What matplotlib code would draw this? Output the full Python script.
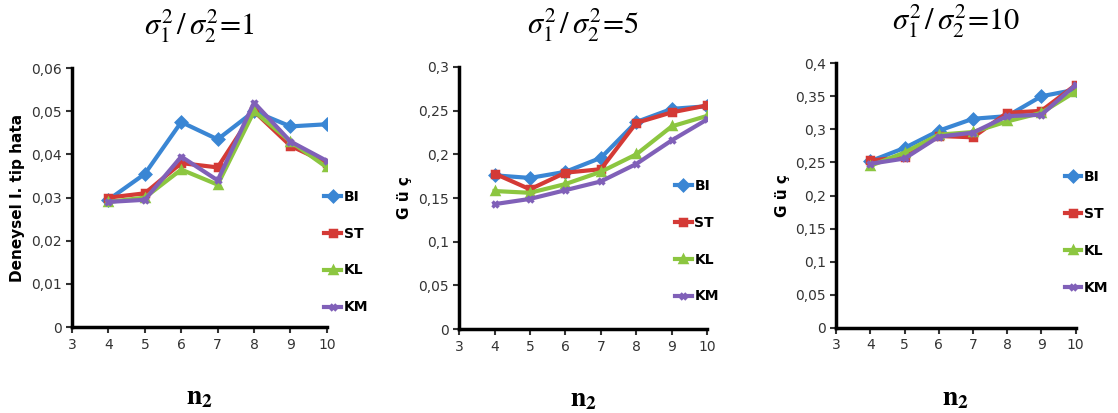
import matplotlib
matplotlib.use("Agg")
import matplotlib.pyplot as plt
from matplotlib.ticker import FuncFormatter, MultipleLocator

n2 = [4, 5, 6, 7, 8, 9, 10]
series_names = ["BI", "ST", "KL", "KM"]

# Panel 1: sigma1^2/sigma2^2 = 1 (empirical type I error)
p1_BI = [0.0295, 0.0355, 0.0475, 0.0435, 0.0500, 0.0465, 0.0470]
p1_ST = [0.0300, 0.0310, 0.0380, 0.0370, 0.0500, 0.0420, 0.0380]
p1_KL = [0.0290, 0.0300, 0.0365, 0.0330, 0.0500, 0.0430, 0.0370]
p1_KM = [0.0290, 0.0295, 0.0395, 0.0340, 0.0520, 0.0430, 0.0385]

# Panel 2: sigma1^2/sigma2^2 = 5 (power)
p2_BI = [0.176, 0.173, 0.180, 0.196, 0.237, 0.252, 0.255]
p2_ST = [0.178, 0.160, 0.179, 0.183, 0.236, 0.248, 0.256]
p2_KL = [0.158, 0.156, 0.166, 0.180, 0.200, 0.232, 0.244]
p2_KM = [0.143, 0.149, 0.159, 0.169, 0.189, 0.216, 0.240]

# Panel 3: sigma1^2/sigma2^2 = 10 (power)
p3_BI = [0.252, 0.272, 0.298, 0.316, 0.320, 0.350, 0.360]
p3_ST = [0.253, 0.258, 0.290, 0.288, 0.325, 0.328, 0.367]
p3_KL = [0.245, 0.265, 0.292, 0.296, 0.312, 0.325, 0.357]
p3_KM = [0.248, 0.256, 0.289, 0.295, 0.320, 0.322, 0.367]

titles = [r"$\sigma_1^2\,/\,\sigma_2^2\!=\!1$", r"$\sigma_1^2\,/\,\sigma_2^2\!=\!5$",
          r"$\sigma_1^2\,/\,\sigma_2^2\!=\!10$"]
ylabels = ["Deneysel I. tip hata", "G ü ç", "G ü ç"]
ylims = [0.06, 0.3, 0.4]
ysteps = [0.01, 0.05, 0.05]

colors = {"BI": "#3a86d4", "ST": "#d43a36", "KL": "#8cc640", "KM": "#8060b8"}
markers = {"BI": "D", "ST": "s", "KL": "^", "KM": "x"}

plt.rcParams["mathtext.fontset"] = "stix"

fig = plt.figure(figsize=(11.18, 4.13), dpi=100)
positions = [
    [0.0644, 0.208, 0.228, 0.627],
    [0.4106, 0.203, 0.222, 0.635],
    [0.748, 0.206, 0.214, 0.641],
]
legend_anchor = [(0.99, 0.29), (0.87, 0.336), (0.955, 0.36)]
data = [
    [p1_BI, p1_ST, p1_KL, p1_KM],
    [p2_BI, p2_ST, p2_KL, p2_KM],
    [p3_BI, p3_ST, p3_KL, p3_KM],
]

def comma_fmt(v, pos):
    s = ("%.2f" % v).rstrip("0").rstrip(".")
    if s == "":
        s = "0"
    return s.replace(".", ",")

for i in range(3):
    ax = fig.add_axes(positions[i])
    for name, vals in zip(series_names, data[i]):
        ax.plot(n2, vals, color=colors[name], marker=markers[name], lw=3,
                ms=5, mew=2.5, label=name)
    ax.set_xlim(3, 10)
    ax.set_ylim(0, ylims[i])
    ax.xaxis.set_major_locator(MultipleLocator(1))
    ax.yaxis.set_major_locator(MultipleLocator(ysteps[i]))
    ax.yaxis.set_major_formatter(FuncFormatter(comma_fmt))
    for s in ["top", "right"]:
        ax.spines[s].set_visible(False)
    for s in ["left", "bottom"]:
        ax.spines[s].set_linewidth(2.5)
    ax.tick_params(labelsize=10, colors="#333333", width=1.5, length=4)
    ax.set_ylabel(ylabels[i], fontsize=11, fontweight="bold")
    ax.set_title(titles[i], fontsize=22, pad=24)
    ax.set_xlabel(r"$\mathbf{n_2}$", fontsize=20, labelpad=22)
    leg = ax.legend(loc="center left", bbox_to_anchor=legend_anchor[i], frameon=False,
                    labelspacing=1.65, handlelength=1.2, handletextpad=0.2,
                    borderaxespad=0, borderpad=0,
                    prop={"weight": "bold", "size": 10})

fig.savefig("out.png", dpi=100)
